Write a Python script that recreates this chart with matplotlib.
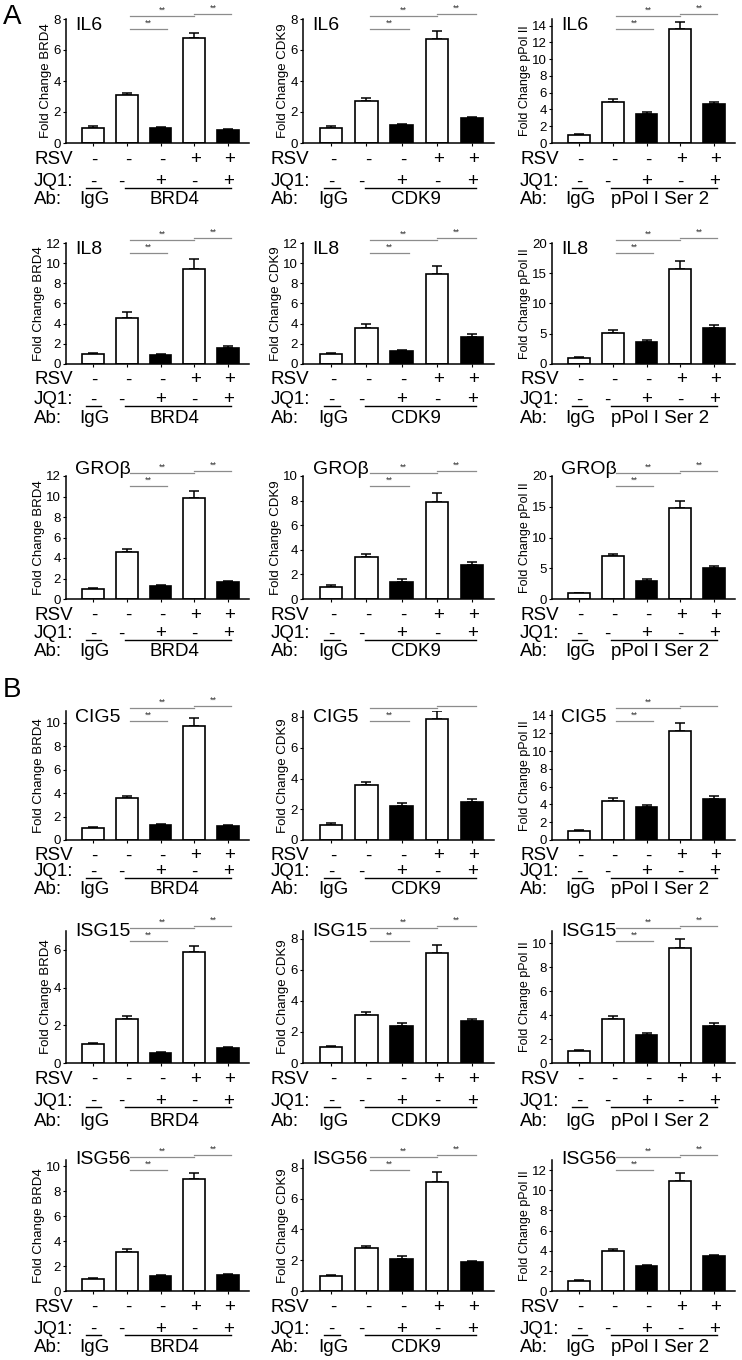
import numpy as np
import matplotlib.pyplot as plt
import matplotlib.transforms as mtransforms

plt.rcParams['font.family'] = ['Liberation Sans', 'DejaVu Sans']

# rangées (gènes) et colonnes (anticorps)
GENES = ["IL6", "IL8", "GRO\u03b2", "CIG5", "ISG15", "ISG56"]
ANTIBODIES = ["BRD4", "CDK9", "pPol I Ser 2"]
YLABELS = ["Fold Change BRD4", "Fold Change CDK9", "Fold Change pPol II"]
RSV = ["-", "-", "-", "+", "+"]
JQ1 = ["-", "-", "+", "-", "+"]
FILLED = [False, False, True, False, True]

# moyennes et erreurs, une liste par anticorps (BRD4, CDK9, pPol II)
IL6_MEAN = [[1.0, 3.1, 0.95, 6.8, 0.85], [1.0, 2.7, 1.15, 6.7, 1.6], [1.0, 4.9, 3.5, 13.6, 4.6]]
IL6_ERR = [[0.08, 0.12, 0.1, 0.3, 0.07], [0.1, 0.18, 0.08, 0.5, 0.1], [0.05, 0.3, 0.25, 0.8, 0.3]]
IL8_MEAN = [[1.0, 4.6, 0.85, 9.4, 1.6], [1.0, 3.6, 1.25, 8.9, 2.7], [1.0, 5.2, 3.6, 15.7, 5.9]]
IL8_ERR = [[0.12, 0.55, 0.1, 1.0, 0.2], [0.1, 0.4, 0.15, 0.8, 0.3], [0.1, 0.5, 0.4, 1.4, 0.6]]
GROB_MEAN = [[1.0, 4.6, 1.3, 9.9, 1.7], [1.0, 3.4, 1.4, 7.9, 2.8], [1.0, 7.0, 3.0, 14.8, 5.1]]
GROB_ERR = [[0.12, 0.25, 0.08, 0.6, 0.1], [0.1, 0.25, 0.2, 0.7, 0.2], [0.05, 0.35, 0.2, 1.2, 0.3]]
CIG5_MEAN = [[1.0, 3.6, 1.3, 9.7, 1.2], [1.0, 3.6, 2.2, 7.9, 2.5], [1.0, 4.4, 3.7, 12.3, 4.6]]
CIG5_ERR = [[0.08, 0.15, 0.08, 0.7, 0.07], [0.08, 0.2, 0.18, 0.5, 0.15], [0.08, 0.3, 0.2, 0.8, 0.3]]
ISG15_MEAN = [[1.0, 2.35, 0.55, 5.9, 0.8], [1.0, 3.1, 2.4, 7.1, 2.7], [1.0, 3.7, 2.35, 9.6, 3.1]]
ISG15_ERR = [[0.07, 0.15, 0.05, 0.3, 0.05], [0.08, 0.2, 0.15, 0.5, 0.15], [0.07, 0.25, 0.15, 0.7, 0.25]]
ISG56_MEAN = [[1.0, 3.1, 1.2, 9.0, 1.3], [1.0, 2.8, 2.1, 7.1, 1.85], [1.0, 3.95, 2.5, 10.9, 3.45]]
ISG56_ERR = [[0.05, 0.25, 0.1, 0.45, 0.07], [0.05, 0.15, 0.15, 0.6, 0.12], [0.07, 0.2, 0.12, 0.8, 0.15]]

# bornes des axes y et pas des graduations
YMAX = [[8, 8, 14.8], [12, 12, 20], [12, 10, 20], [11, 8.4, 14.5], [7, 8.5, 11], [10.5, 8.5, 13]]
YSTEP = [[2, 2, 2], [2, 2, 5], [2, 2, 5], [2, 2, 2], [2, 2, 2], [2, 2, 2]]

# étoiles de significativité (bas, haut, droite)
STARS = [[["**", "**", "**"]] * 3,
         [["**", "**", "**"]] * 3,
         [["**", "**", "**"]] * 3,
         [["**", "**", "**"], ["**", "", ""], ["**", "**", ""]],
         [["**", "**", "**"]] * 3,
         [["**", "**", "**"]] * 3]

MEANS = [IL6_MEAN, IL8_MEAN, GROB_MEAN, CIG5_MEAN, ISG15_MEAN, ISG56_MEAN]
ERRS = [IL6_ERR, IL8_ERR, GROB_ERR, CIG5_ERR, ISG15_ERR, ISG56_ERR]

W, H = 742, 1360
ROW_TOP = [19, 243, 476, 711, 931, 1160]
ROW_BOT = [143, 364, 599, 840, 1063, 1291]
COL_LEFT = [66, 303, 552]
COL_RIGHT = [249, 494, 735]
ANNOT = [(17, 39, 57), (16, 36, 55), (16, 35, 53), (16, 32, 49), (16, 38, 58), (16, 38, 57)]
GENE_DY = [6, 6, -7, 7, 0, 0]


def offset(ax, trans, dx=0, dy=0):
    return mtransforms.offset_copy(trans, fig=ax.figure, x=dx, y=dy, units='dots')


def draw_panel(fig, r, c):
    left, right = COL_LEFT[c], COL_RIGHT[c]
    top, bot = ROW_TOP[r], ROW_BOT[r]
    ax = fig.add_axes([left / W, 1 - bot / H, (right - left) / W, (bot - top) / H])

    xs = np.arange(5)
    means = MEANS[r][c]
    errs = ERRS[r][c]
    colors = ["black" if f else "white" for f in FILLED]
    ax.bar(xs, means, width=0.64, color=colors, edgecolor="black", linewidth=1.2, zorder=2)
    ax.errorbar(xs, means, yerr=[np.zeros(5), errs], fmt="none", ecolor="black",
                elinewidth=1.1, capsize=3.5, capthick=1.1, zorder=1)

    ax.set_xlim(-0.8, 4.62)
    ax.set_ylim(0, YMAX[r][c])
    step = YSTEP[r][c]
    ax.set_yticks(np.arange(0, YMAX[r][c] + 0.01, step))
    ax.set_xticks(xs)
    ax.set_xticklabels([])
    ax.tick_params(axis="y", labelsize=9.5, length=2.5, width=0.8, pad=1)
    ax.tick_params(axis="x", length=2.5, width=0.8)
    for s in ["top", "right"]:
        ax.spines[s].set_visible(False)
    for s in ["left", "bottom"]:
        ax.spines[s].set_linewidth(1.1)
    ax.set_ylabel(YLABELS[c], fontsize=9.5 if c < 2 else 9, labelpad=1)

    # nom du gène
    ax.text(0.05, 1.0, GENES[r], transform=offset(ax, ax.transAxes, 0, -GENE_DY[r]),
            fontsize=14, ha="left", va="center")

    # barres de significativité
    tb = ax.get_xaxis_transform()
    stars = STARS[r][c]
    for (x0, x1, dy), lab in zip([(1.1, 2.2, -10), (1.1, 3.0, 3), (3.0, 4.1, 5)], stars):
        tr = offset(ax, tb, 0, dy)
        ax.plot([x0, x1], [1, 1], color="#8c8c8c", lw=0.9, transform=tr, clip_on=False)
        if lab:
            ax.text((x0 + x1) / 2, 1, lab, transform=offset(ax, tb, 0, dy + 1), fontsize=6.5,
                    ha="center", va="bottom", color="#333333")

    # lignes RSV / JQ1 / Ab
    d_rsv, d_jq1, d_ab = ANNOT[r]
    fs = 13.5
    ax.text(0, 0, "RSV", transform=offset(ax, ax.transAxes, -32, -d_rsv), fontsize=fs,
            ha="left", va="center")
    ax.text(0, 0, "JQ1:", transform=offset(ax, ax.transAxes, -32, -d_jq1), fontsize=fs,
            ha="left", va="center")
    ax.text(0, 0, "Ab:", transform=offset(ax, ax.transAxes, -32, -d_ab), fontsize=fs,
            ha="left", va="center")
    for i in range(5):
        ax.text(xs[i] + 0.05, 0, RSV[i], transform=offset(ax, tb, 0, -d_rsv), fontsize=fs,
                ha="center", va="center")
        xj = xs[i] - 0.15 if i == 1 else xs[i]
        ax.text(xj, 0, JQ1[i], transform=offset(ax, tb, 0, -d_jq1), fontsize=fs,
                ha="center", va="center")
    tl = offset(ax, tb, 0, -(d_jq1 + 6))
    ax.plot([-0.2, 0.25], [0, 0], color="black", lw=1.0, transform=tl, clip_on=False)
    ax.plot([0.95, 4.1], [0, 0], color="black", lw=1.0, transform=tl, clip_on=False)
    ax.text(0.05, 0, "IgG", transform=offset(ax, tb, 0, -d_ab), fontsize=fs,
            ha="center", va="center")
    ax.text(2.4, 0, ANTIBODIES[c], transform=offset(ax, tb, 0, -d_ab), fontsize=fs,
            ha="center", va="center")
    return ax


def main():
    fig = plt.figure(figsize=(W / 100, H / 100), dpi=100)
    for r in range(6):
        for c in range(3):
            draw_panel(fig, r, c)
    fig.text(3 / W, 1 - 17 / H, "A", fontsize=20, ha="left", va="center")
    fig.text(3 / W, 1 - 690 / H, "B", fontsize=20, ha="left", va="center")
    fig.savefig("out.png", dpi=100)


if __name__ == "__main__":
    main()
